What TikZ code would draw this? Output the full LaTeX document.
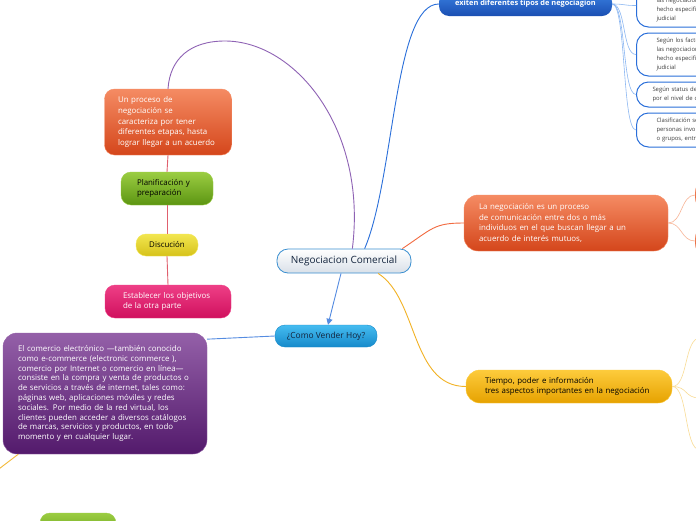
\documentclass[tikz,border=0pt]{standalone}
\usepackage{fontspec}
\setmainfont{Open Sans}
\usetikzlibrary{arrows.meta}
\definecolor{navy}{HTML}{13243D}
\definecolor{cenedge}{HTML}{3A8FD0}
\definecolor{cenlow}{HTML}{D9E0E8}
\definecolor{skytop}{HTML}{45BCF0}
\definecolor{skylow}{HTML}{168ACB}
\definecolor{bluetop}{HTML}{3A80E2}
\definecolor{bluelow}{HTML}{1A4FB2}
\definecolor{orgtop}{HTML}{F58B63}
\definecolor{orglow}{HTML}{D4461B}
\definecolor{grntop}{HTML}{9BCD42}
\definecolor{grnlow}{HTML}{5C9512}
\definecolor{yeltop}{HTML}{F2E650}
\definecolor{yellow2}{HTML}{D6C21A}
\definecolor{pnktop}{HTML}{EE3F86}
\definecolor{pnklow}{HTML}{D0105E}
\definecolor{purtop}{HTML}{9460A8}
\definecolor{purlow}{HTML}{531A6C}
\definecolor{goldtop}{HTML}{FDCB3C}
\definecolor{goldlow}{HTML}{E6A200}
\definecolor{lilac}{HTML}{8E62B4}
\definecolor{linkblue}{HTML}{2A6FDA}
\definecolor{linkorg}{HTML}{F26A40}
\definecolor{linkgold}{HTML}{F2B224}
\definecolor{stemred}{HTML}{E0606E}
\definecolor{twigblue}{HTML}{8DB8F2}
\definecolor{twigorg}{HTML}{F8B496}
\definecolor{twiggold}{HTML}{F9DC96}
\tikzset{
 topic/.style={rounded corners=10pt, inner sep=0pt, align=left,
   font=\fontsize{7.9}{10.8}\selectfont},
 leaf/.style={rounded corners=12pt, draw=linkblue, line width=1pt, fill=white,
   anchor=west, inner xsep=20pt, text width=80pt, align=left, text=black!75,
   font=\fontsize{5.9}{8.9}\selectfont},
 link/.style={line width=0.9pt},
 twig/.style={line width=0.6pt},
}
\begin{document}
\begin{tikzpicture}[x=1pt,y=-1pt]
 \clip (0,0) rectangle (696,520);
 \fill[white] (0,0) rectangle (696,520);

 \node[topic, draw=cenedge, line width=0.8pt, top color=white, bottom color=cenlow,
   minimum width=134pt, minimum height=24pt, rounded corners=11pt, text=navy,
   font=\fontsize{10}{12}\selectfont] (neg) at (344,261) {Negociacion Comercial};
 \node[topic, draw=skylow, top color=skytop, bottom color=skylow, minimum width=102pt,
   minimum height=22pt, text=navy, font=\fontsize{8.4}{10}\selectfont] (vend) at (326,336) {¿Como Vender Hoy?};
 \node[topic, top color=bluetop, bottom color=bluelow, minimum width=173pt,
   minimum height=24pt, text=white, font=\bfseries\fontsize{7.4}{9}\selectfont] (tipos) at (525.5,4) {exiten diferentes tipos de negociagion};

 \node[leaf, minimum width=100pt, minimum height=43pt] (fa) at (636,5.5) {Según los factores\\las negociaciones\\hecho especifico\\judicial};
 \node[leaf, minimum width=100pt, minimum height=43pt] (fb) at (636,54.5) {Según los factores\\las negociaciones\\hecho especifico\\judicial};
 \node[leaf, minimum width=100pt, minimum height=25pt, inner xsep=16pt] (fc) at (636,94.5) {Según status de las\\por el nivel de cargo};
 \node[leaf, minimum width=100pt, minimum height=34pt] (fd) at (636,130) {Clasificación según\\personas involucradas\\o grupos, entre};

 \node[topic, draw=orgtop, top color=orgtop, bottom color=orglow, minimum width=127pt,
   minimum height=66pt, text width=100pt, text=white] (etapas) at (168,122) {Un proceso de\\negociación se\\caracteriza por tener\\diferentes etapas, hasta\\lograr llegar a un acuerdo};
 \node[topic, draw=grntop, top color=grntop, bottom color=grnlow, minimum width=92pt,
   minimum height=33pt, text width=60pt, text=black] (plan) at (167,188.5) {Planificación y\\preparación};
 \node[topic, draw=yeltop, top color=yeltop, bottom color=yellow2, minimum width=62pt,
   minimum height=22pt, align=center, text=black] (disc) at (167,245) {Discución};
 \node[topic, draw=pnktop, top color=pnktop, bottom color=pnklow, minimum width=126pt,
   minimum height=33pt, text width=90pt, text=white] (obj) at (168,301.5) {Establecer los objetivos\\de la otra parte};

 \node[topic, draw=purtop, top color=purtop, bottom color=purlow, minimum width=204pt,
   minimum height=121pt, text width=174pt, text=white, rounded corners=14pt,
   font=\fontsize{7.9}{9.8}\selectfont] (ecom) at (105,393.5) {El comercio electrónico —también conocido\\como e-commerce (electronic commerce ),\\comercio por Internet o comercio en línea—\\consiste en la compra y venta de productos o\\de servicios a través de internet, tales como:\\páginas web, aplicaciones móviles y redes\\sociales. Por medio de la red virtual, los\\clientes pueden acceder a diversos catálogos\\de marcas, servicios y productos, en todo\\momento y en cualquier lugar.};
 \node[topic, draw=grntop, top color=grntop, bottom color=grnlow, minimum width=76pt,
   minimum height=30pt] (verde) at (78,528) {};

 \node[topic, draw=orgtop, top color=orgtop, bottom color=orglow, minimum width=204pt,
   minimum height=56pt, text width=174pt, text=white, rounded corners=14pt] (comu) at (566,223) {La negociación es un proceso\\de comunicación entre dos o más\\individuos en el que buscan llegar a un\\acuerdo de interés mutuos,};
 \node[topic, draw=orgtop, top color=orgtop, bottom color=orglow, anchor=west,
   minimum width=60pt, minimum height=26pt] (oa) at (695,195) {};
 \node[topic, draw=orgtop, top color=orgtop, bottom color=orglow, anchor=west,
   minimum width=60pt, minimum height=26pt] (ob) at (695,241) {};

 \node[topic, draw=goldtop, top color=goldtop, bottom color=goldlow, minimum width=206pt,
   minimum height=33pt, text width=168pt, text=black, rounded corners=14pt] (tiempo) at (569,386.5) {Tiempo, poder e información\\tres aspectos importantes en la negociación};
 \coordinate (ga) at (700,338);
 \coordinate (gb) at (700,398);
 \coordinate (gc) at (700,450);
 \coordinate (fuera) at (-30,491);

 \draw[link, lilac] (neg.56) .. controls +(15,-120) and +(70,0) .. (225,41)
   .. controls +(-35,0) and +(2,-30) .. (etapas.north);
 \draw[link, linkblue] (neg.31) .. controls +(30,-70) and +(-45,0) .. (tipos.west);
 \draw[link, linkorg] (neg.12.8) .. controls +(30,-20) and +(-30,0) .. (comu.west);
 \draw[link, linkgold] (neg.-20) .. controls +(40,25) and +(-55,0) .. (tiempo.west);
 \draw[link, linkblue!80, -{Triangle[length=6pt,width=6pt]}] ([xshift=-3pt]neg.south) -- ([xshift=2pt]vend.north);
 \draw[link, linkblue!80] (vend.west) -- (ecom.28);
 \draw[link, linkgold!90] (ecom.215) -- (fuera);

 \draw[link, stemred] (etapas.south) -- (plan.north);
 \draw[link, stemred] (plan.south) -- (disc.north);
 \draw[link, stemred] (disc.south) -- (obj.north);

 \foreach \f in {fa,fb,fc,fd}
  \draw[twig, twigblue] (tipos.east) .. controls +(14,0) and +(-14,0) .. (\f.west);
 \foreach \f in {oa,ob}
  \draw[twig, twigorg] (comu.east) .. controls +(14,0) and +(-14,0) .. (\f.west);
 \foreach \f in {ga,gb,gc}
  \draw[twig, twiggold] (tiempo.east) .. controls +(16,0) and +(-16,0) .. (\f);
\end{tikzpicture}
\end{document}
